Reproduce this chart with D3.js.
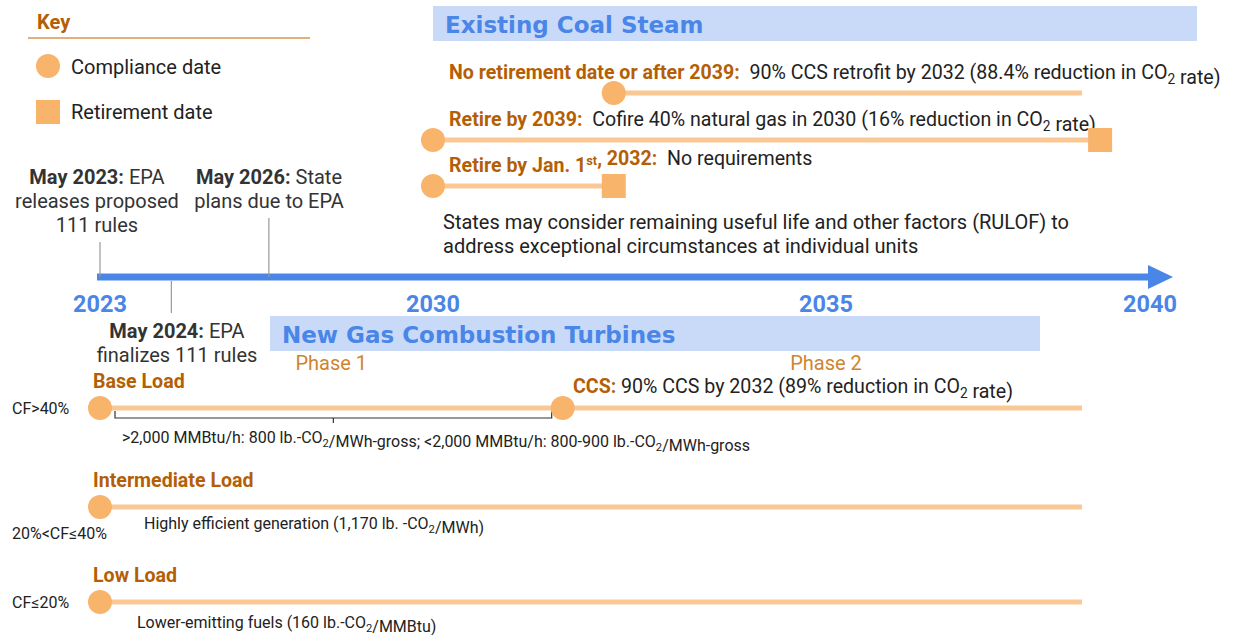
<!DOCTYPE html>
<html>
<head>
<meta charset="utf-8">
<script src="https://cdn.jsdelivr.net/npm/d3@7"></script>
<style>
  body { margin: 0; background: #fff; }
  text { font-family: Roboto, "Liberation Sans", sans-serif; }
</style>
</head>
<body>
<div id="chart"></div>
<script>
// ---- data (years) ----
var yearTicks = [2023, 2030, 2035, 2040];

var milestoneYears = [2023.0, 2026.55, 2024.5];
var milestoneBold = ["May 2023:", "May 2026:", "May 2024:"];
var milestoneLines = [
  [" EPA", "releases proposed", "111 rules"],
  [" State", "plans due to EPA"],
  [" EPA", "finalizes 111 rules"]
];
var milestoneAbove = [true, true, false];

var coalLabels = ["No retirement date or after 2039:", "Retire by 2039:", "Retire by Jan. 1st, 2032:"];
var coalDetails = [
  "90% CCS retrofit by 2032 (88.4% reduction in CO2 rate)",
  "Cofire 40% natural gas in 2030 (16% reduction in CO2 rate)",
  "No requirements"
];
var coalStart = [2032.3, 2030, 2030];
var coalEnd = [2038.95, 2039.23, 2032.3];
var coalRetire = [null, 2039.23, 2032.3];

var gasLabels = ["Base Load", "Intermediate Load", "Low Load"];
var gasCF = ["CF>40%", "20%<CF≤40%", "CF≤20%"];
var gasStart = [2023, 2023, 2023];
var gasEnd = [2038.95, 2038.95, 2038.95];
var gasNotes = [
  ">2,000 MMBtu/h: 800 lb.-CO2/MWh-gross; <2,000 MMBtu/h: 800-900 lb.-CO2/MWh-gross",
  "Highly efficient generation (1,170 lb. -CO2/MWh)",
  "Lower-emitting fuels (160 lb.-CO2/MMBtu)"
];
var phaseLabels = ["Phase 1", "Phase 2"];
var phaseCenters = [2027.86, 2035];
var ccsYear = 2031.65;
var ccsText = "90% CCS by 2032 (89% reduction in CO2 rate)";
var rulofText = ["States may consider remaining useful life and other factors (RULOF) to",
                 "address exceptional circumstances at individual units"];

// ---- colours ----
var c_blue = "#4a86e8";
var c_box = "#c9daf8";
var c_dark_orange = "#b45f06";
var c_phase = "#d0842f";
var c_dot = "#f9b46c";
var c_line = "#f9c893";

var width = 1244, height = 635;

var svg = d3.select("#chart").append("svg")
    .attr("width", width)
    .attr("height", height);

// piecewise year scale, as the slide spaces its year labels unevenly
var xScale = d3.scaleLinear()
    .domain(yearTicks)
    .range([100, 433, 826, 1150]);

// writes text, turning "CO2" into CO with a subscript and "1st" into a superscript
function richText(sel, x, y, parts, size, anchor) {
  var t = sel.append("text")
    .attr("x", x).attr("y", y)
    .attr("font-size", size)
    .attr("text-anchor", anchor || "start")
    .attr("fill", "#222");
  parts.forEach(function(p) {
    var pieces = p.t.split(/(CO2|1st)/);
    pieces.forEach(function(s) {
      if (s === "") return;
      var sp = t.append("tspan").attr("font-weight", p.b ? "bold" : null)
        .attr("fill", p.c || null);
      if (s === "CO2") {
        sp.text("CO");
        t.append("tspan").attr("dy", size * 0.25).attr("font-size", size * 0.7)
          .attr("font-weight", p.b ? "bold" : null).text("2");
        t.append("tspan").attr("dy", -size * 0.25).text("");
      } else if (s === "1st") {
        sp.text("1");
        t.append("tspan").attr("dy", -size * 0.35).attr("font-size", size * 0.65)
          .attr("font-weight", "bold").attr("fill", p.c).text("st");
        t.append("tspan").attr("dy", size * 0.35).text("");
      } else {
        sp.text(s.replace(/ /g, "\u00a0"));
      }
    });
  });
  return t;
}

// ---- key ----
var key = svg.append("g");
key.append("text").attr("x", 37).attr("y", 29).attr("font-size", 20)
  .attr("font-weight", "bold").attr("fill", c_dark_orange).text("Key");
key.append("line").attr("x1", 28).attr("x2", 310).attr("y1", 38).attr("y2", 38)
  .style("stroke", "#dc9550").style("stroke-width", 1.5);
key.append("circle").attr("cx", 48).attr("cy", 66).attr("r", 12).style("fill", c_dot);
key.append("text").attr("x", 71).attr("y", 74).attr("font-size", 20).attr("fill", "#222").text("Compliance date");
key.append("rect").attr("x", 36).attr("y", 100).attr("width", 24).attr("height", 24).style("fill", c_dot);
key.append("text").attr("x", 71).attr("y", 119).attr("font-size", 20).attr("fill", "#222").text("Retirement date");

// ---- section headers ----
function header(x1, x2, y, label) {
  svg.append("rect").attr("x", x1).attr("y", y).attr("width", x2 - x1).attr("height", 35)
    .style("fill", c_box);
  svg.append("text").attr("x", x1 + 12).attr("y", y + 27)
    .style("font-family", "'DejaVu Sans', sans-serif")
    .attr("font-size", 23).attr("font-weight", "bold").attr("fill", c_blue).text(label);
}
header(433, 1197, 6, "Existing Coal Steam");
header(270, 1040, 316, "New Gas Combustion Turbines");

// ---- coal rows ----
var coalY = [93, 140, 186];
coalLabels.forEach(function(lab, i) {
  var g = svg.append("g");
  richText(g, 449, coalY[i] - 14, [{t: lab, b: true, c: c_dark_orange}, {t: "  " + coalDetails[i]}], 19.6);
  g.append("line")
    .attr("x1", xScale(coalStart[i])).attr("x2", xScale(coalEnd[i]))
    .attr("y1", coalY[i]).attr("y2", coalY[i])
    .style("stroke", c_line).style("stroke-width", 5);
  g.append("circle").attr("cx", xScale(coalStart[i])).attr("cy", coalY[i]).attr("r", 12)
    .style("fill", c_dot);
  if (coalRetire[i] !== null) {
    g.append("rect").attr("x", xScale(coalRetire[i]) - 12).attr("y", coalY[i] - 12)
      .attr("width", 24).attr("height", 24).style("fill", c_dot);
  }
});

svg.selectAll(".rulof").data(rulofText).enter().append("text")
  .attr("x", 443).attr("y", function(d, i) { return 229 + i * 24; })
  .attr("font-size", 20).attr("fill", "#222").text(function(d) { return d; });

// ---- timeline axis ----
var axisY = 277;
svg.append("line").attr("x1", xScale(2023) - 3).attr("x2", 1152)
  .attr("y1", axisY).attr("y2", axisY)
  .style("stroke", c_blue).style("stroke-width", 7);
svg.append("path")
  .attr("d", "M1148," + (axisY - 12) + "L1173," + axisY + "L1148," + (axisY + 12) + "Z")
  .style("fill", c_blue);

svg.selectAll(".year").data(yearTicks).enter().append("text")
  .attr("x", function(d) { return xScale(d); }).attr("y", 312)
  .attr("text-anchor", "middle").attr("font-size", 23.5).attr("font-weight", "bold")
  .attr("fill", c_blue).text(function(d) { return d; });

// milestones
var msTextX = [97, 269, 177];
milestoneYears.forEach(function(yr, i) {
  var x = xScale(yr);
  var y0;
  if (milestoneAbove[i]) {
    var top = i === 0 ? 242 : 218;
    svg.append("line").attr("x1", x).attr("x2", x).attr("y1", top).attr("y2", axisY)
      .style("stroke", "#999").style("stroke-width", 1.2);
    y0 = 184;
  } else {
    svg.append("line").attr("x1", x).attr("x2", x).attr("y1", axisY + 4).attr("y2", 313)
      .style("stroke", "#999").style("stroke-width", 1.2);
    y0 = 338;
  }
  var lines = milestoneLines[i];
  richText(svg, msTextX[i], y0, [{t: milestoneBold[i], b: true, c: "#333"}, {t: lines[0], c: "#333"}], 20, "middle");
  for (var k = 1; k < lines.length; k++) {
    svg.append("text").attr("x", msTextX[i]).attr("y", y0 + 24 * k)
      .attr("text-anchor", "middle").attr("font-size", 20).attr("fill", "#333").text(lines[k]);
  }
});

// ---- gas rows ----
svg.selectAll(".phase").data(phaseLabels).enter().append("text")
  .attr("x", function(d, i) { return xScale(phaseCenters[i]); }).attr("y", 370)
  .attr("text-anchor", "middle").attr("font-size", 20).attr("fill", c_phase)
  .text(function(d) { return d; });

var gasY = [408, 507, 602];
var cfY = [414, 539, 608];
var noteX = [122, 144, 137];
var noteY = [443, 529, 628];
gasLabels.forEach(function(lab, i) {
  var g = svg.append("g");
  g.append("text").attr("x", 93).attr("y", gasY[i] - 20).attr("font-size", 19.6)
    .attr("font-weight", "bold").attr("fill", c_dark_orange).text(lab);
  g.append("text").attr("x", 12).attr("y", cfY[i]).attr("font-size", 16)
    .attr("fill", "#222").text(gasCF[i]);
  g.append("line")
    .attr("x1", xScale(gasStart[i])).attr("x2", xScale(gasEnd[i]))
    .attr("y1", gasY[i]).attr("y2", gasY[i])
    .style("stroke", c_line).style("stroke-width", 5);
  g.append("circle").attr("cx", xScale(gasStart[i])).attr("cy", gasY[i]).attr("r", 12)
    .style("fill", c_dot);
  richText(g, noteX[i], noteY[i], [{t: gasNotes[i]}], 16);
});

// base load: CCS phase 2 marker and the phase 1 brace
var bx1 = xScale(gasStart[0]) + 15, bx2 = xScale(ccsYear) - 11, bmid = (bx1 + bx2) / 2;
svg.append("path")
  .attr("d", "M" + bx1 + ",411V418H" + bx2 + "V411M" + bmid + ",418V423")
  .style("fill", "none").style("stroke", "#333").style("stroke-width", 1.2);
svg.append("circle").attr("cx", xScale(ccsYear)).attr("cy", gasY[0]).attr("r", 12)
  .style("fill", c_dot);
richText(svg, 573, 393, [{t: "CCS:", b: true, c: c_dark_orange}, {t: " " + ccsText}], 19.6);
</script>
</body>
</html>
